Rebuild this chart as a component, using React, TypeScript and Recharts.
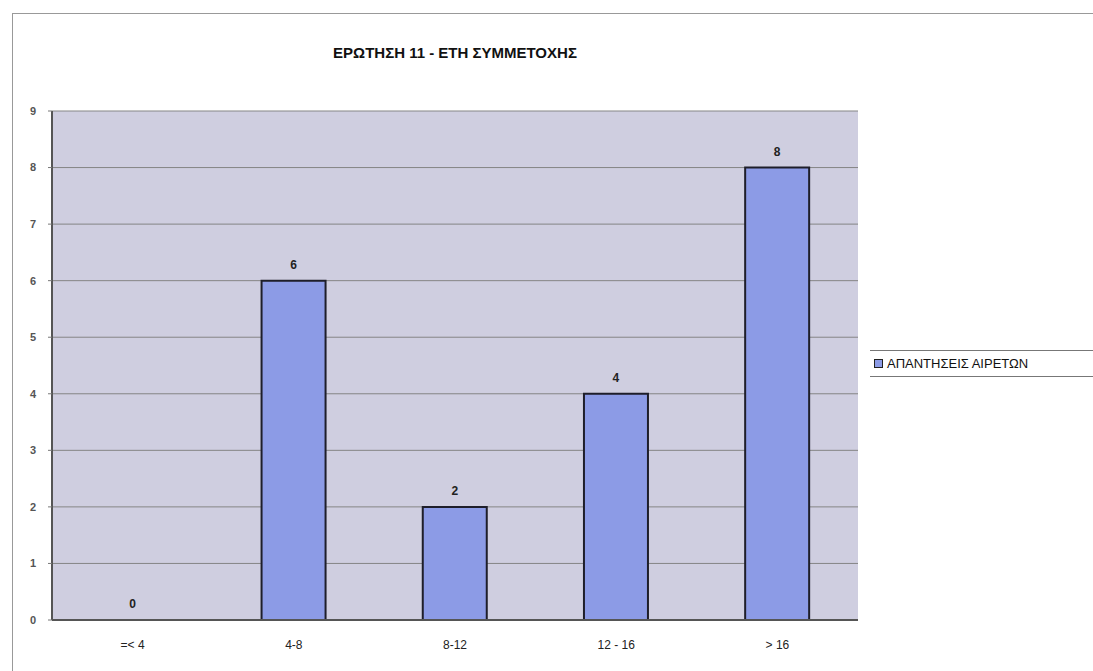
import React from 'react';
import {
  BarChart,
  Bar,
  XAxis,
  YAxis,
  CartesianGrid,
  LabelList,
  ReferenceDot,
} from 'recharts';

const categories = ['=< 4', '4-8', '8-12', '12 - 16', '> 16'];
const answers = [0, 6, 2, 4, 8];
const yTicks = [0, 1, 2, 3, 4, 5, 6, 7, 8, 9];

const seriesName = 'ΑΠΑΝΤΗΣΕΙΣ ΑΙΡΕΤΩΝ';
const title = 'ΕΡΩΤΗΣΗ 11 - ΕΤΗ ΣΥΜΜΕΤΟΧΗΣ';

const data = categories.map((name, i) => ({ name, value: answers[i] }));

const font = 'Arial, "Liberation Sans", sans-serif';
const labelStyle = { fontSize: 12, fontWeight: 'bold', fontFamily: font, fill: '#222' };

// value label above each bar
function ValueLabel(props: any) {
  const { x, y, width, value } = props;
  return (
    <text
      x={Number(x) + Number(width) / 2}
      y={Number(y) - 12}
      textAnchor="middle"
      {...labelStyle}
    >
      {value}
    </text>
  );
}

export default function App() {
  return (
    <div style={{ position: 'absolute', left: 0, top: 0, width: 1093, height: 671, background: '#fff', overflow: 'hidden' }}>
      <div
        style={{
          position: 'absolute',
          left: 12,
          top: 13,
          width: 1200,
          height: 800,
          border: '1px solid #999',
        }}
      />
      <div
        style={{
          position: 'absolute',
          left: 52,
          width: 806,
          top: 44,
          textAlign: 'center',
          fontFamily: font,
          fontWeight: 'bold',
          fontSize: 15,
          color: '#111',
        }}
      >
        {title}
      </div>
      <BarChart
        width={1093}
        height={671}
        data={data}
        margin={{ top: 111, right: 235, left: 12, bottom: 11 }}
        barCategoryGap="30%"
        style={{ position: 'absolute', left: 0, top: 0 }}
      >
        <CartesianGrid vertical={false} stroke="#858585" fill="#cfcee0" fillOpacity={1} />
        <XAxis
          dataKey="name"
          height={40}
          tickLine={false}
          axisLine={{ stroke: '#555', strokeWidth: 2 }}
          tick={{ fontSize: 12, fill: '#222', fontFamily: font }}
          tickMargin={14}
          interval={0}
        />
        <YAxis
          width={40}
          domain={[0, 9]}
          ticks={yTicks}
          interval={0}
          tickSize={4}
          tickMargin={12}
          axisLine={{ stroke: '#555', strokeWidth: 2 }}
          tickLine={{ stroke: '#777' }}
          tick={{ fontSize: 11, fill: '#555', fontFamily: font, fontWeight: 'bold' }}
        />
        <Bar
          dataKey="value"
          name={seriesName}
          fill="#8c9be6"
          stroke="#1e1e2a"
          strokeWidth={2}
          isAnimationActive={false}
        >
          <LabelList dataKey="value" content={<ValueLabel />} />
        </Bar>
        {data
          .filter((d) => d.value === 0)
          .map((d) => (
            <ReferenceDot
              key={d.name}
              x={d.name}
              y={d.value}
              r={0}
              stroke="none"
              fill="none"
              label={{ value: String(d.value), position: 'top', offset: 12, ...labelStyle }}
            />
          ))}
      </BarChart>
      <div
        style={{
          position: 'absolute',
          left: 870,
          top: 350,
          width: 260,
          borderTop: '1px solid #777',
          borderBottom: '1px solid #777',
          padding: '5px 0 5px 4px',
          fontFamily: font,
          fontSize: 13,
          color: '#111',
          whiteSpace: 'nowrap',
          display: 'flex',
          alignItems: 'center',
        }}
      >
        <span
          style={{
            display: 'inline-block',
            width: 7,
            height: 7,
            background: '#8c9be6',
            border: '1px solid #222',
            marginRight: 4,
          }}
        />
        {seriesName}
      </div>
    </div>
  );
}
